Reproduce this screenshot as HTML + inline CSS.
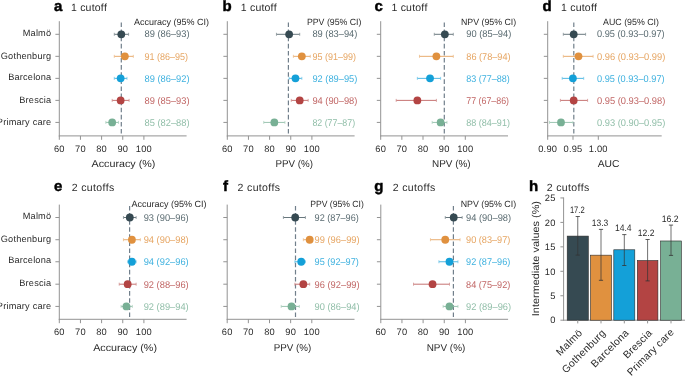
<!DOCTYPE html>
<html><head><meta charset="utf-8"><style>
html,body{margin:0;padding:0;background:#fff;}
body{width:685px;height:376px;overflow:hidden;}
svg{display:block;will-change:transform;text-rendering:geometricPrecision;font-variant-ligatures:none;font-kerning:none;font-family:"Liberation Sans",sans-serif;}
</style></head><body>
<svg width="685" height="376" viewBox="0 0 685 376" font-family="Liberation Sans, sans-serif">
<rect width="685" height="376" fill="#ffffff"/>
<text x="54.00" y="11.00" font-size="15.0" fill="#000" text-anchor="start" font-weight="bold" stroke="#000" stroke-width="0.45">a</text>
<text x="71.00" y="11.00" font-size="10.5" fill="#2b2b2b" text-anchor="start" letter-spacing="0.2">1 cutoff</text>
<line x1="59.30" y1="21.20" x2="59.30" y2="136.40" stroke="#939393" stroke-width="1.0"/>
<line x1="58.80" y1="135.90" x2="186.60" y2="135.90" stroke="#939393" stroke-width="1.0"/>
<line x1="59.30" y1="135.90" x2="59.30" y2="139.80" stroke="#939393" stroke-width="1.0"/>
<text x="59.30" y="151.60" font-size="9.3" fill="#2b2b2b" text-anchor="middle" letter-spacing="0.2">60</text>
<line x1="80.45" y1="135.90" x2="80.45" y2="139.80" stroke="#939393" stroke-width="1.0"/>
<text x="80.45" y="151.60" font-size="9.3" fill="#2b2b2b" text-anchor="middle" letter-spacing="0.2">70</text>
<line x1="101.60" y1="135.90" x2="101.60" y2="139.80" stroke="#939393" stroke-width="1.0"/>
<text x="101.60" y="151.60" font-size="9.3" fill="#2b2b2b" text-anchor="middle" letter-spacing="0.2">80</text>
<line x1="122.75" y1="135.90" x2="122.75" y2="139.80" stroke="#939393" stroke-width="1.0"/>
<text x="122.75" y="151.60" font-size="9.3" fill="#2b2b2b" text-anchor="middle" letter-spacing="0.2">90</text>
<line x1="143.90" y1="135.90" x2="143.90" y2="139.80" stroke="#939393" stroke-width="1.0"/>
<text x="143.90" y="151.60" font-size="9.3" fill="#2b2b2b" text-anchor="middle" letter-spacing="0.2">100</text>
<text x="123.50" y="166.70" font-size="10.0" fill="#2b2b2b" text-anchor="middle" textLength="63.8" lengthAdjust="spacingAndGlyphs">Accuracy (%)</text>
<line x1="55.40" y1="34.30" x2="59.30" y2="34.30" stroke="#939393" stroke-width="1.0"/>
<text x="51.30" y="35.60" font-size="9.2" fill="#2b2b2b" text-anchor="end" letter-spacing="0.2">Malmö</text>
<line x1="55.40" y1="56.33" x2="59.30" y2="56.33" stroke="#939393" stroke-width="1.0"/>
<text x="51.30" y="58.50" font-size="9.2" fill="#2b2b2b" text-anchor="end" letter-spacing="0.2">Gothenburg</text>
<line x1="55.40" y1="78.36" x2="59.30" y2="78.36" stroke="#939393" stroke-width="1.0"/>
<text x="51.30" y="80.06" font-size="9.2" fill="#2b2b2b" text-anchor="end" letter-spacing="0.2">Barcelona</text>
<line x1="55.40" y1="100.39" x2="59.30" y2="100.39" stroke="#939393" stroke-width="1.0"/>
<text x="51.30" y="102.69" font-size="9.2" fill="#2b2b2b" text-anchor="end" letter-spacing="0.2">Brescia</text>
<line x1="55.40" y1="122.42" x2="59.30" y2="122.42" stroke="#939393" stroke-width="1.0"/>
<text x="51.30" y="124.72" font-size="9.2" fill="#2b2b2b" text-anchor="end" letter-spacing="0.2">Primary care</text>
<line x1="121.30" y1="21.70" x2="121.30" y2="135.90" stroke="#717f8b" stroke-width="1.2" stroke-dasharray="4.6 2.5" stroke-dashoffset="-0.8"/>
<text x="134.10" y="24.60" font-size="9.0" fill="#2b2b2b" text-anchor="start">Accuracy (95% CI)</text>
<line x1="114.29" y1="34.30" x2="128.60" y2="34.30" stroke="#68777d" stroke-width="1.0"/>
<line x1="114.29" y1="32.80" x2="114.29" y2="35.80" stroke="#869297" stroke-width="0.8"/>
<line x1="128.60" y1="32.80" x2="128.60" y2="35.80" stroke="#869297" stroke-width="0.8"/>
<circle cx="121.30" cy="34.30" r="3.9" fill="#364a52"/>
<text x="144.50" y="37.40" font-size="9.8" fill="#5a6b71" text-anchor="start" textLength="45.0" lengthAdjust="spacingAndGlyphs">89 (86–93)</text>
<line x1="114.29" y1="56.33" x2="133.32" y2="56.33" stroke="#e8ac6f" stroke-width="1.0"/>
<line x1="114.29" y1="54.83" x2="114.29" y2="57.83" stroke="#ecbd8c" stroke-width="0.8"/>
<line x1="133.32" y1="54.83" x2="133.32" y2="57.83" stroke="#ecbd8c" stroke-width="0.8"/>
<circle cx="124.87" cy="56.33" r="3.9" fill="#e0913f"/>
<text x="144.50" y="59.53" font-size="9.8" fill="#e6a562" text-anchor="start" textLength="43.6" lengthAdjust="spacingAndGlyphs">91 (86–95)</text>
<line x1="114.29" y1="78.36" x2="126.98" y2="78.36" stroke="#4fb8e2" stroke-width="1.0"/>
<line x1="114.29" y1="76.86" x2="114.29" y2="79.86" stroke="#72c6e8" stroke-width="0.8"/>
<line x1="126.98" y1="76.86" x2="126.98" y2="79.86" stroke="#72c6e8" stroke-width="0.8"/>
<circle cx="120.64" cy="78.36" r="3.9" fill="#14a0d8"/>
<text x="144.50" y="81.71" font-size="9.8" fill="#3eb1df" text-anchor="start" textLength="45.0" lengthAdjust="spacingAndGlyphs">89 (86–92)</text>
<line x1="112.18" y1="100.39" x2="129.09" y2="100.39" stroke="#c67372" stroke-width="1.0"/>
<line x1="112.18" y1="98.89" x2="112.18" y2="101.89" stroke="#d18f8e" stroke-width="0.8"/>
<line x1="129.09" y1="98.89" x2="129.09" y2="101.89" stroke="#d18f8e" stroke-width="0.8"/>
<circle cx="120.64" cy="100.39" r="3.9" fill="#b34443"/>
<text x="144.50" y="104.04" font-size="9.8" fill="#c16665" text-anchor="start" textLength="45.0" lengthAdjust="spacingAndGlyphs">89 (85–93)</text>
<line x1="105.83" y1="122.42" x2="118.52" y2="122.42" stroke="#9ac4b0" stroke-width="1.0"/>
<line x1="105.83" y1="120.92" x2="105.83" y2="123.92" stroke="#aed0bf" stroke-width="0.8"/>
<line x1="118.52" y1="120.92" x2="118.52" y2="123.92" stroke="#aed0bf" stroke-width="0.8"/>
<circle cx="112.18" cy="122.42" r="3.9" fill="#78b095"/>
<text x="144.50" y="125.90" font-size="9.8" fill="#90bea8" text-anchor="start" textLength="45.0" lengthAdjust="spacingAndGlyphs">85 (82–88)</text>
<text x="222.40" y="11.00" font-size="15.0" fill="#000" text-anchor="start" font-weight="bold" stroke="#000" stroke-width="0.45">b</text>
<text x="240.80" y="11.00" font-size="10.5" fill="#2b2b2b" text-anchor="start" letter-spacing="0.2">1 cutoff</text>
<line x1="227.30" y1="21.20" x2="227.30" y2="136.40" stroke="#939393" stroke-width="1.0"/>
<line x1="226.80" y1="135.90" x2="354.60" y2="135.90" stroke="#939393" stroke-width="1.0"/>
<line x1="227.30" y1="135.90" x2="227.30" y2="139.80" stroke="#939393" stroke-width="1.0"/>
<text x="227.30" y="151.60" font-size="9.3" fill="#2b2b2b" text-anchor="middle" letter-spacing="0.2">60</text>
<line x1="248.45" y1="135.90" x2="248.45" y2="139.80" stroke="#939393" stroke-width="1.0"/>
<text x="248.45" y="151.60" font-size="9.3" fill="#2b2b2b" text-anchor="middle" letter-spacing="0.2">70</text>
<line x1="269.60" y1="135.90" x2="269.60" y2="139.80" stroke="#939393" stroke-width="1.0"/>
<text x="269.60" y="151.60" font-size="9.3" fill="#2b2b2b" text-anchor="middle" letter-spacing="0.2">80</text>
<line x1="290.75" y1="135.90" x2="290.75" y2="139.80" stroke="#939393" stroke-width="1.0"/>
<text x="290.75" y="151.60" font-size="9.3" fill="#2b2b2b" text-anchor="middle" letter-spacing="0.2">90</text>
<line x1="311.90" y1="135.90" x2="311.90" y2="139.80" stroke="#939393" stroke-width="1.0"/>
<text x="311.90" y="151.60" font-size="9.3" fill="#2b2b2b" text-anchor="middle" letter-spacing="0.2">100</text>
<text x="294.20" y="166.70" font-size="10.0" fill="#2b2b2b" text-anchor="middle" textLength="37.5" lengthAdjust="spacingAndGlyphs">PPV (%)</text>
<line x1="223.40" y1="34.30" x2="227.30" y2="34.30" stroke="#939393" stroke-width="1.0"/>
<line x1="223.40" y1="56.33" x2="227.30" y2="56.33" stroke="#939393" stroke-width="1.0"/>
<line x1="223.40" y1="78.36" x2="227.30" y2="78.36" stroke="#939393" stroke-width="1.0"/>
<line x1="223.40" y1="100.39" x2="227.30" y2="100.39" stroke="#939393" stroke-width="1.0"/>
<line x1="223.40" y1="122.42" x2="227.30" y2="122.42" stroke="#939393" stroke-width="1.0"/>
<line x1="288.40" y1="21.70" x2="288.40" y2="135.90" stroke="#717f8b" stroke-width="1.2" stroke-dasharray="4.6 2.5" stroke-dashoffset="-0.8"/>
<text x="306.90" y="24.60" font-size="9.0" fill="#2b2b2b" text-anchor="start" textLength="54.6" lengthAdjust="spacingAndGlyphs">PPV (95% CI)</text>
<line x1="276.44" y1="34.30" x2="299.71" y2="34.30" stroke="#68777d" stroke-width="1.0"/>
<line x1="276.44" y1="32.80" x2="276.44" y2="35.80" stroke="#869297" stroke-width="0.8"/>
<line x1="299.71" y1="32.80" x2="299.71" y2="35.80" stroke="#869297" stroke-width="0.8"/>
<circle cx="289.13" cy="34.30" r="3.9" fill="#364a52"/>
<text x="312.40" y="37.40" font-size="9.8" fill="#5a6b71" text-anchor="start" textLength="45.0" lengthAdjust="spacingAndGlyphs">89 (83–94)</text>
<line x1="293.37" y1="56.33" x2="310.29" y2="56.33" stroke="#e8ac6f" stroke-width="1.0"/>
<line x1="293.37" y1="54.83" x2="293.37" y2="57.83" stroke="#ecbd8c" stroke-width="0.8"/>
<line x1="310.29" y1="54.83" x2="310.29" y2="57.83" stroke="#ecbd8c" stroke-width="0.8"/>
<circle cx="301.83" cy="56.33" r="3.9" fill="#e0913f"/>
<text x="312.40" y="59.53" font-size="9.8" fill="#e6a562" text-anchor="start" textLength="43.6" lengthAdjust="spacingAndGlyphs">95 (91–99)</text>
<line x1="289.13" y1="78.36" x2="301.83" y2="78.36" stroke="#4fb8e2" stroke-width="1.0"/>
<line x1="289.13" y1="76.86" x2="289.13" y2="79.86" stroke="#72c6e8" stroke-width="0.8"/>
<line x1="301.83" y1="76.86" x2="301.83" y2="79.86" stroke="#72c6e8" stroke-width="0.8"/>
<circle cx="295.48" cy="78.36" r="3.9" fill="#14a0d8"/>
<text x="312.40" y="81.71" font-size="9.8" fill="#3eb1df" text-anchor="start" textLength="45.0" lengthAdjust="spacingAndGlyphs">92 (89–95)</text>
<line x1="291.25" y1="100.39" x2="308.17" y2="100.39" stroke="#c67372" stroke-width="1.0"/>
<line x1="291.25" y1="98.89" x2="291.25" y2="101.89" stroke="#d18f8e" stroke-width="0.8"/>
<line x1="308.17" y1="98.89" x2="308.17" y2="101.89" stroke="#d18f8e" stroke-width="0.8"/>
<circle cx="299.71" cy="100.39" r="3.9" fill="#b34443"/>
<text x="312.40" y="104.04" font-size="9.8" fill="#c16665" text-anchor="start" textLength="45.0" lengthAdjust="spacingAndGlyphs">94 (90–98)</text>
<line x1="263.75" y1="122.42" x2="284.91" y2="122.42" stroke="#9ac4b0" stroke-width="1.0"/>
<line x1="263.75" y1="120.92" x2="263.75" y2="123.92" stroke="#aed0bf" stroke-width="0.8"/>
<line x1="284.91" y1="120.92" x2="284.91" y2="123.92" stroke="#aed0bf" stroke-width="0.8"/>
<circle cx="274.33" cy="122.42" r="3.9" fill="#78b095"/>
<text x="312.40" y="125.90" font-size="9.8" fill="#90bea8" text-anchor="start" textLength="42.75" lengthAdjust="spacingAndGlyphs">82 (77–87)</text>
<text x="374.50" y="11.00" font-size="15.0" fill="#000" text-anchor="start" font-weight="bold" stroke="#000" stroke-width="0.45">c</text>
<text x="391.50" y="11.00" font-size="10.5" fill="#2b2b2b" text-anchor="start" letter-spacing="0.2">1 cutoff</text>
<line x1="380.70" y1="21.20" x2="380.70" y2="136.40" stroke="#939393" stroke-width="1.0"/>
<line x1="380.20" y1="135.90" x2="508.00" y2="135.90" stroke="#939393" stroke-width="1.0"/>
<line x1="380.70" y1="135.90" x2="380.70" y2="139.80" stroke="#939393" stroke-width="1.0"/>
<text x="380.70" y="151.60" font-size="9.3" fill="#2b2b2b" text-anchor="middle" letter-spacing="0.2">60</text>
<line x1="401.85" y1="135.90" x2="401.85" y2="139.80" stroke="#939393" stroke-width="1.0"/>
<text x="401.85" y="151.60" font-size="9.3" fill="#2b2b2b" text-anchor="middle" letter-spacing="0.2">70</text>
<line x1="423.00" y1="135.90" x2="423.00" y2="139.80" stroke="#939393" stroke-width="1.0"/>
<text x="423.00" y="151.60" font-size="9.3" fill="#2b2b2b" text-anchor="middle" letter-spacing="0.2">80</text>
<line x1="444.15" y1="135.90" x2="444.15" y2="139.80" stroke="#939393" stroke-width="1.0"/>
<text x="444.15" y="151.60" font-size="9.3" fill="#2b2b2b" text-anchor="middle" letter-spacing="0.2">90</text>
<line x1="465.30" y1="135.90" x2="465.30" y2="139.80" stroke="#939393" stroke-width="1.0"/>
<text x="465.30" y="151.60" font-size="9.3" fill="#2b2b2b" text-anchor="middle" letter-spacing="0.2">100</text>
<text x="451.30" y="166.70" font-size="10.0" fill="#2b2b2b" text-anchor="middle" textLength="38.6" lengthAdjust="spacingAndGlyphs">NPV (%)</text>
<line x1="376.80" y1="34.30" x2="380.70" y2="34.30" stroke="#939393" stroke-width="1.0"/>
<line x1="376.80" y1="56.33" x2="380.70" y2="56.33" stroke="#939393" stroke-width="1.0"/>
<line x1="376.80" y1="78.36" x2="380.70" y2="78.36" stroke="#939393" stroke-width="1.0"/>
<line x1="376.80" y1="100.39" x2="380.70" y2="100.39" stroke="#939393" stroke-width="1.0"/>
<line x1="376.80" y1="122.42" x2="380.70" y2="122.42" stroke="#939393" stroke-width="1.0"/>
<line x1="444.30" y1="21.70" x2="444.30" y2="135.90" stroke="#717f8b" stroke-width="1.2" stroke-dasharray="4.6 2.5" stroke-dashoffset="-0.8"/>
<text x="461.00" y="24.60" font-size="9.0" fill="#2b2b2b" text-anchor="start" textLength="55.2" lengthAdjust="spacingAndGlyphs">NPV (95% CI)</text>
<line x1="434.27" y1="34.30" x2="453.31" y2="34.30" stroke="#68777d" stroke-width="1.0"/>
<line x1="434.27" y1="32.80" x2="434.27" y2="35.80" stroke="#869297" stroke-width="0.8"/>
<line x1="453.31" y1="32.80" x2="453.31" y2="35.80" stroke="#869297" stroke-width="0.8"/>
<circle cx="444.85" cy="34.30" r="3.9" fill="#364a52"/>
<text x="466.30" y="37.40" font-size="9.8" fill="#5a6b71" text-anchor="start" textLength="45.0" lengthAdjust="spacingAndGlyphs">90 (85–94)</text>
<line x1="419.47" y1="56.33" x2="453.31" y2="56.33" stroke="#e8ac6f" stroke-width="1.0"/>
<line x1="419.47" y1="54.83" x2="419.47" y2="57.83" stroke="#ecbd8c" stroke-width="0.8"/>
<line x1="453.31" y1="54.83" x2="453.31" y2="57.83" stroke="#ecbd8c" stroke-width="0.8"/>
<circle cx="436.39" cy="56.33" r="3.9" fill="#e0913f"/>
<text x="466.30" y="59.53" font-size="9.8" fill="#e6a562" text-anchor="start" textLength="44.25" lengthAdjust="spacingAndGlyphs">86 (78–94)</text>
<line x1="417.35" y1="78.36" x2="440.62" y2="78.36" stroke="#4fb8e2" stroke-width="1.0"/>
<line x1="417.35" y1="76.86" x2="417.35" y2="79.86" stroke="#72c6e8" stroke-width="0.8"/>
<line x1="440.62" y1="76.86" x2="440.62" y2="79.86" stroke="#72c6e8" stroke-width="0.8"/>
<circle cx="430.04" cy="78.36" r="3.9" fill="#14a0d8"/>
<text x="466.30" y="81.71" font-size="9.8" fill="#3eb1df" text-anchor="start" textLength="43.5" lengthAdjust="spacingAndGlyphs">83 (77–88)</text>
<line x1="396.20" y1="100.39" x2="436.39" y2="100.39" stroke="#c67372" stroke-width="1.0"/>
<line x1="396.20" y1="98.89" x2="396.20" y2="101.89" stroke="#d18f8e" stroke-width="0.8"/>
<line x1="436.39" y1="98.89" x2="436.39" y2="101.89" stroke="#d18f8e" stroke-width="0.8"/>
<circle cx="417.35" cy="100.39" r="3.9" fill="#b34443"/>
<text x="466.30" y="104.04" font-size="9.8" fill="#c16665" text-anchor="start" textLength="42.75" lengthAdjust="spacingAndGlyphs">77 (67–86)</text>
<line x1="432.16" y1="122.42" x2="446.96" y2="122.42" stroke="#9ac4b0" stroke-width="1.0"/>
<line x1="432.16" y1="120.92" x2="432.16" y2="123.92" stroke="#aed0bf" stroke-width="0.8"/>
<line x1="446.96" y1="120.92" x2="446.96" y2="123.92" stroke="#aed0bf" stroke-width="0.8"/>
<circle cx="440.62" cy="122.42" r="3.9" fill="#78b095"/>
<text x="466.30" y="125.90" font-size="9.8" fill="#90bea8" text-anchor="start" textLength="43.6" lengthAdjust="spacingAndGlyphs">88 (84–91)</text>
<text x="542.40" y="11.00" font-size="15.0" fill="#000" text-anchor="start" font-weight="bold" stroke="#000" stroke-width="0.45">d</text>
<text x="561.10" y="11.00" font-size="10.5" fill="#2b2b2b" text-anchor="start" letter-spacing="0.2">1 cutoff</text>
<line x1="547.70" y1="21.20" x2="547.70" y2="136.40" stroke="#939393" stroke-width="1.0"/>
<line x1="547.20" y1="135.90" x2="661.70" y2="135.90" stroke="#939393" stroke-width="1.0"/>
<line x1="547.70" y1="135.90" x2="547.70" y2="139.80" stroke="#939393" stroke-width="1.0"/>
<text x="547.70" y="151.60" font-size="9.3" fill="#2b2b2b" text-anchor="middle" letter-spacing="0.2">0.90</text>
<line x1="573.00" y1="135.90" x2="573.00" y2="139.80" stroke="#939393" stroke-width="1.0"/>
<text x="573.00" y="151.60" font-size="9.3" fill="#2b2b2b" text-anchor="middle" letter-spacing="0.2">0.95</text>
<line x1="598.30" y1="135.90" x2="598.30" y2="139.80" stroke="#939393" stroke-width="1.0"/>
<text x="598.30" y="151.60" font-size="9.3" fill="#2b2b2b" text-anchor="middle" letter-spacing="0.2">1.00</text>
<text x="608.60" y="166.70" font-size="10.0" fill="#2b2b2b" text-anchor="middle" textLength="21.8" lengthAdjust="spacingAndGlyphs">AUC</text>
<line x1="543.80" y1="34.30" x2="547.70" y2="34.30" stroke="#939393" stroke-width="1.0"/>
<line x1="543.80" y1="56.33" x2="547.70" y2="56.33" stroke="#939393" stroke-width="1.0"/>
<line x1="543.80" y1="78.36" x2="547.70" y2="78.36" stroke="#939393" stroke-width="1.0"/>
<line x1="543.80" y1="100.39" x2="547.70" y2="100.39" stroke="#939393" stroke-width="1.0"/>
<line x1="543.80" y1="122.42" x2="547.70" y2="122.42" stroke="#939393" stroke-width="1.0"/>
<line x1="573.80" y1="21.70" x2="573.80" y2="135.90" stroke="#717f8b" stroke-width="1.2" stroke-dasharray="4.6 2.5" stroke-dashoffset="-0.8"/>
<text x="603.10" y="24.60" font-size="9.0" fill="#2b2b2b" text-anchor="start" textLength="55.9" lengthAdjust="spacingAndGlyphs">AUC (95% CI)</text>
<line x1="563.30" y1="34.30" x2="585.60" y2="34.30" stroke="#68777d" stroke-width="1.0"/>
<line x1="563.30" y1="32.80" x2="563.30" y2="35.80" stroke="#869297" stroke-width="0.8"/>
<line x1="585.60" y1="32.80" x2="585.60" y2="35.80" stroke="#869297" stroke-width="0.8"/>
<circle cx="573.70" cy="34.30" r="3.9" fill="#364a52"/>
<text x="597.00" y="37.40" font-size="9.8" fill="#5a6b71" text-anchor="start" textLength="67.57" lengthAdjust="spacingAndGlyphs">0.95 (0.93–0.97)</text>
<line x1="563.30" y1="56.33" x2="593.10" y2="56.33" stroke="#e8ac6f" stroke-width="1.0"/>
<line x1="563.30" y1="54.83" x2="563.30" y2="57.83" stroke="#ecbd8c" stroke-width="0.8"/>
<line x1="593.10" y1="54.83" x2="593.10" y2="57.83" stroke="#ecbd8c" stroke-width="0.8"/>
<circle cx="578.50" cy="56.33" r="3.9" fill="#e0913f"/>
<text x="597.00" y="59.53" font-size="9.8" fill="#e6a562" text-anchor="start" textLength="68.32" lengthAdjust="spacingAndGlyphs">0.96 (0.93–0.99)</text>
<line x1="562.20" y1="78.36" x2="583.70" y2="78.36" stroke="#4fb8e2" stroke-width="1.0"/>
<line x1="562.20" y1="76.86" x2="562.20" y2="79.86" stroke="#72c6e8" stroke-width="0.8"/>
<line x1="583.70" y1="76.86" x2="583.70" y2="79.86" stroke="#72c6e8" stroke-width="0.8"/>
<circle cx="572.90" cy="78.36" r="3.9" fill="#14a0d8"/>
<text x="597.00" y="81.71" font-size="9.8" fill="#3eb1df" text-anchor="start" textLength="67.57" lengthAdjust="spacingAndGlyphs">0.95 (0.93–0.97)</text>
<line x1="560.40" y1="100.39" x2="587.60" y2="100.39" stroke="#c67372" stroke-width="1.0"/>
<line x1="560.40" y1="98.89" x2="560.40" y2="101.89" stroke="#d18f8e" stroke-width="0.8"/>
<line x1="587.60" y1="98.89" x2="587.60" y2="101.89" stroke="#d18f8e" stroke-width="0.8"/>
<circle cx="573.70" cy="100.39" r="3.9" fill="#b34443"/>
<text x="597.00" y="104.04" font-size="9.8" fill="#c16665" text-anchor="start" textLength="68.32" lengthAdjust="spacingAndGlyphs">0.95 (0.93–0.98)</text>
<line x1="549.50" y1="122.42" x2="572.90" y2="122.42" stroke="#9ac4b0" stroke-width="1.0"/>
<line x1="549.50" y1="120.92" x2="549.50" y2="123.92" stroke="#aed0bf" stroke-width="0.8"/>
<line x1="572.90" y1="120.92" x2="572.90" y2="123.92" stroke="#aed0bf" stroke-width="0.8"/>
<circle cx="561.00" cy="122.42" r="3.9" fill="#78b095"/>
<text x="597.00" y="125.90" font-size="9.8" fill="#90bea8" text-anchor="start" textLength="68.32" lengthAdjust="spacingAndGlyphs">0.93 (0.90–0.95)</text>
<text x="54.00" y="190.70" font-size="15.0" fill="#000" text-anchor="start" font-weight="bold" stroke="#000" stroke-width="0.45">e</text>
<text x="71.80" y="190.70" font-size="10.5" fill="#2b2b2b" text-anchor="start" letter-spacing="0.35">2 cutoffs</text>
<line x1="59.30" y1="204.60" x2="59.30" y2="319.80" stroke="#939393" stroke-width="1.0"/>
<line x1="58.80" y1="319.30" x2="186.60" y2="319.30" stroke="#939393" stroke-width="1.0"/>
<line x1="59.30" y1="319.30" x2="59.30" y2="323.20" stroke="#939393" stroke-width="1.0"/>
<text x="59.30" y="335.00" font-size="9.3" fill="#2b2b2b" text-anchor="middle" letter-spacing="0.2">60</text>
<line x1="80.45" y1="319.30" x2="80.45" y2="323.20" stroke="#939393" stroke-width="1.0"/>
<text x="80.45" y="335.00" font-size="9.3" fill="#2b2b2b" text-anchor="middle" letter-spacing="0.2">70</text>
<line x1="101.60" y1="319.30" x2="101.60" y2="323.20" stroke="#939393" stroke-width="1.0"/>
<text x="101.60" y="335.00" font-size="9.3" fill="#2b2b2b" text-anchor="middle" letter-spacing="0.2">80</text>
<line x1="122.75" y1="319.30" x2="122.75" y2="323.20" stroke="#939393" stroke-width="1.0"/>
<text x="122.75" y="335.00" font-size="9.3" fill="#2b2b2b" text-anchor="middle" letter-spacing="0.2">90</text>
<line x1="143.90" y1="319.30" x2="143.90" y2="323.20" stroke="#939393" stroke-width="1.0"/>
<text x="143.90" y="335.00" font-size="9.3" fill="#2b2b2b" text-anchor="middle" letter-spacing="0.2">100</text>
<text x="125.10" y="351.00" font-size="10.0" fill="#2b2b2b" text-anchor="middle" textLength="63.8" lengthAdjust="spacingAndGlyphs">Accuracy (%)</text>
<line x1="55.40" y1="217.50" x2="59.30" y2="217.50" stroke="#939393" stroke-width="1.0"/>
<text x="51.30" y="218.80" font-size="9.2" fill="#2b2b2b" text-anchor="end" letter-spacing="0.2">Malmö</text>
<line x1="55.40" y1="239.73" x2="59.30" y2="239.73" stroke="#939393" stroke-width="1.0"/>
<text x="51.30" y="241.90" font-size="9.2" fill="#2b2b2b" text-anchor="end" letter-spacing="0.2">Gothenburg</text>
<line x1="55.40" y1="261.76" x2="59.30" y2="261.76" stroke="#939393" stroke-width="1.0"/>
<text x="51.30" y="263.46" font-size="9.2" fill="#2b2b2b" text-anchor="end" letter-spacing="0.2">Barcelona</text>
<line x1="55.40" y1="284.19" x2="59.30" y2="284.19" stroke="#939393" stroke-width="1.0"/>
<text x="51.30" y="286.49" font-size="9.2" fill="#2b2b2b" text-anchor="end" letter-spacing="0.2">Brescia</text>
<line x1="55.40" y1="306.42" x2="59.30" y2="306.42" stroke="#939393" stroke-width="1.0"/>
<text x="51.30" y="308.72" font-size="9.2" fill="#2b2b2b" text-anchor="end" letter-spacing="0.2">Primary care</text>
<line x1="129.60" y1="205.10" x2="129.60" y2="319.30" stroke="#717f8b" stroke-width="1.2" stroke-dasharray="4.6 2.5" stroke-dashoffset="-0.8"/>
<text x="131.40" y="207.00" font-size="9.0" fill="#2b2b2b" text-anchor="start">Accuracy (95% CI)</text>
<line x1="123.45" y1="217.50" x2="136.14" y2="217.50" stroke="#68777d" stroke-width="1.0"/>
<line x1="123.45" y1="216.00" x2="123.45" y2="219.00" stroke="#869297" stroke-width="0.8"/>
<line x1="136.14" y1="216.00" x2="136.14" y2="219.00" stroke="#869297" stroke-width="0.8"/>
<circle cx="129.79" cy="217.50" r="3.9" fill="#364a52"/>
<text x="143.70" y="220.60" font-size="9.8" fill="#5a6b71" text-anchor="start" textLength="45.0" lengthAdjust="spacingAndGlyphs">93 (90–96)</text>
<line x1="123.45" y1="239.73" x2="140.37" y2="239.73" stroke="#e8ac6f" stroke-width="1.0"/>
<line x1="123.45" y1="238.23" x2="123.45" y2="241.23" stroke="#ecbd8c" stroke-width="0.8"/>
<line x1="140.37" y1="238.23" x2="140.37" y2="241.23" stroke="#ecbd8c" stroke-width="0.8"/>
<circle cx="131.91" cy="239.73" r="3.9" fill="#e0913f"/>
<text x="143.70" y="242.93" font-size="9.8" fill="#e6a562" text-anchor="start" textLength="45.0" lengthAdjust="spacingAndGlyphs">94 (90–98)</text>
<line x1="127.68" y1="261.76" x2="136.14" y2="261.76" stroke="#4fb8e2" stroke-width="1.0"/>
<line x1="127.68" y1="260.26" x2="127.68" y2="263.26" stroke="#72c6e8" stroke-width="0.8"/>
<line x1="136.14" y1="260.26" x2="136.14" y2="263.26" stroke="#72c6e8" stroke-width="0.8"/>
<circle cx="131.91" cy="261.76" r="3.9" fill="#14a0d8"/>
<text x="143.70" y="265.11" font-size="9.8" fill="#3eb1df" text-anchor="start" textLength="45.0" lengthAdjust="spacingAndGlyphs">94 (92–96)</text>
<line x1="119.22" y1="284.19" x2="136.14" y2="284.19" stroke="#c67372" stroke-width="1.0"/>
<line x1="119.22" y1="282.69" x2="119.22" y2="285.69" stroke="#d18f8e" stroke-width="0.8"/>
<line x1="136.14" y1="282.69" x2="136.14" y2="285.69" stroke="#d18f8e" stroke-width="0.8"/>
<circle cx="127.68" cy="284.19" r="3.9" fill="#b34443"/>
<text x="143.70" y="287.84" font-size="9.8" fill="#c16665" text-anchor="start" textLength="45.0" lengthAdjust="spacingAndGlyphs">92 (88–96)</text>
<line x1="121.12" y1="306.42" x2="132.33" y2="306.42" stroke="#9ac4b0" stroke-width="1.0"/>
<line x1="121.12" y1="304.92" x2="121.12" y2="307.92" stroke="#aed0bf" stroke-width="0.8"/>
<line x1="132.33" y1="304.92" x2="132.33" y2="307.92" stroke="#aed0bf" stroke-width="0.8"/>
<circle cx="126.41" cy="306.42" r="3.9" fill="#78b095"/>
<text x="143.70" y="309.90" font-size="9.8" fill="#90bea8" text-anchor="start" textLength="45.0" lengthAdjust="spacingAndGlyphs">92 (89–94)</text>
<text x="223.10" y="190.70" font-size="15.0" fill="#000" text-anchor="start" font-weight="bold" stroke="#000" stroke-width="0.45">f</text>
<text x="237.60" y="190.70" font-size="10.5" fill="#2b2b2b" text-anchor="start" letter-spacing="0.35">2 cutoffs</text>
<line x1="227.20" y1="204.60" x2="227.20" y2="319.80" stroke="#939393" stroke-width="1.0"/>
<line x1="226.70" y1="319.30" x2="354.50" y2="319.30" stroke="#939393" stroke-width="1.0"/>
<line x1="227.20" y1="319.30" x2="227.20" y2="323.20" stroke="#939393" stroke-width="1.0"/>
<text x="227.20" y="335.00" font-size="9.3" fill="#2b2b2b" text-anchor="middle" letter-spacing="0.2">60</text>
<line x1="248.35" y1="319.30" x2="248.35" y2="323.20" stroke="#939393" stroke-width="1.0"/>
<text x="248.35" y="335.00" font-size="9.3" fill="#2b2b2b" text-anchor="middle" letter-spacing="0.2">70</text>
<line x1="269.50" y1="319.30" x2="269.50" y2="323.20" stroke="#939393" stroke-width="1.0"/>
<text x="269.50" y="335.00" font-size="9.3" fill="#2b2b2b" text-anchor="middle" letter-spacing="0.2">80</text>
<line x1="290.65" y1="319.30" x2="290.65" y2="323.20" stroke="#939393" stroke-width="1.0"/>
<text x="290.65" y="335.00" font-size="9.3" fill="#2b2b2b" text-anchor="middle" letter-spacing="0.2">90</text>
<line x1="311.80" y1="319.30" x2="311.80" y2="323.20" stroke="#939393" stroke-width="1.0"/>
<text x="311.80" y="335.00" font-size="9.3" fill="#2b2b2b" text-anchor="middle" letter-spacing="0.2">100</text>
<text x="292.50" y="351.00" font-size="10.0" fill="#2b2b2b" text-anchor="middle" textLength="37.5" lengthAdjust="spacingAndGlyphs">PPV (%)</text>
<line x1="223.30" y1="217.50" x2="227.20" y2="217.50" stroke="#939393" stroke-width="1.0"/>
<line x1="223.30" y1="239.73" x2="227.20" y2="239.73" stroke="#939393" stroke-width="1.0"/>
<line x1="223.30" y1="261.76" x2="227.20" y2="261.76" stroke="#939393" stroke-width="1.0"/>
<line x1="223.30" y1="284.19" x2="227.20" y2="284.19" stroke="#939393" stroke-width="1.0"/>
<line x1="223.30" y1="306.42" x2="227.20" y2="306.42" stroke="#939393" stroke-width="1.0"/>
<line x1="295.50" y1="205.10" x2="295.50" y2="319.30" stroke="#717f8b" stroke-width="1.2" stroke-dasharray="4.6 2.5" stroke-dashoffset="-0.8"/>
<text x="310.20" y="207.00" font-size="9.0" fill="#2b2b2b" text-anchor="start" textLength="53.6" lengthAdjust="spacingAndGlyphs">PPV (95% CI)</text>
<line x1="283.40" y1="217.50" x2="305.40" y2="217.50" stroke="#68777d" stroke-width="1.0"/>
<line x1="283.40" y1="216.00" x2="283.40" y2="219.00" stroke="#869297" stroke-width="0.8"/>
<line x1="305.40" y1="216.00" x2="305.40" y2="219.00" stroke="#869297" stroke-width="0.8"/>
<circle cx="295.20" cy="217.50" r="3.9" fill="#364a52"/>
<text x="314.60" y="220.60" font-size="9.8" fill="#5a6b71" text-anchor="start" textLength="44.25" lengthAdjust="spacingAndGlyphs">92 (87–96)</text>
<line x1="303.34" y1="239.73" x2="309.69" y2="239.73" stroke="#e8ac6f" stroke-width="1.0"/>
<line x1="303.34" y1="238.23" x2="303.34" y2="241.23" stroke="#ecbd8c" stroke-width="0.8"/>
<line x1="309.69" y1="238.23" x2="309.69" y2="241.23" stroke="#ecbd8c" stroke-width="0.8"/>
<circle cx="309.69" cy="239.73" r="3.9" fill="#e0913f"/>
<text x="314.60" y="242.93" font-size="9.8" fill="#e6a562" text-anchor="start" textLength="45.0" lengthAdjust="spacingAndGlyphs">99 (96–99)</text>
<line x1="294.88" y1="261.76" x2="305.45" y2="261.76" stroke="#4fb8e2" stroke-width="1.0"/>
<line x1="294.88" y1="260.26" x2="294.88" y2="263.26" stroke="#72c6e8" stroke-width="0.8"/>
<line x1="305.45" y1="260.26" x2="305.45" y2="263.26" stroke="#72c6e8" stroke-width="0.8"/>
<circle cx="301.23" cy="261.76" r="3.9" fill="#14a0d8"/>
<text x="314.60" y="265.11" font-size="9.8" fill="#3eb1df" text-anchor="start" textLength="44.25" lengthAdjust="spacingAndGlyphs">95 (92–97)</text>
<line x1="294.88" y1="284.19" x2="309.69" y2="284.19" stroke="#c67372" stroke-width="1.0"/>
<line x1="294.88" y1="282.69" x2="294.88" y2="285.69" stroke="#d18f8e" stroke-width="0.8"/>
<line x1="309.69" y1="282.69" x2="309.69" y2="285.69" stroke="#d18f8e" stroke-width="0.8"/>
<circle cx="303.34" cy="284.19" r="3.9" fill="#b34443"/>
<text x="314.60" y="287.84" font-size="9.8" fill="#c16665" text-anchor="start" textLength="45.0" lengthAdjust="spacingAndGlyphs">96 (92–99)</text>
<line x1="281.20" y1="306.42" x2="299.30" y2="306.42" stroke="#9ac4b0" stroke-width="1.0"/>
<line x1="281.20" y1="304.92" x2="281.20" y2="307.92" stroke="#aed0bf" stroke-width="0.8"/>
<line x1="299.30" y1="304.92" x2="299.30" y2="307.92" stroke="#aed0bf" stroke-width="0.8"/>
<circle cx="291.50" cy="306.42" r="3.9" fill="#78b095"/>
<text x="314.60" y="309.90" font-size="9.8" fill="#90bea8" text-anchor="start" textLength="45.0" lengthAdjust="spacingAndGlyphs">90 (86–94)</text>
<text x="374.30" y="190.70" font-size="15.0" fill="#000" text-anchor="start" font-weight="bold" stroke="#000" stroke-width="0.45">g</text>
<text x="392.80" y="190.70" font-size="10.5" fill="#2b2b2b" text-anchor="start" letter-spacing="0.35">2 cutoffs</text>
<line x1="380.80" y1="204.60" x2="380.80" y2="319.80" stroke="#939393" stroke-width="1.0"/>
<line x1="380.30" y1="319.30" x2="508.10" y2="319.30" stroke="#939393" stroke-width="1.0"/>
<line x1="380.80" y1="319.30" x2="380.80" y2="323.20" stroke="#939393" stroke-width="1.0"/>
<text x="380.80" y="335.00" font-size="9.3" fill="#2b2b2b" text-anchor="middle" letter-spacing="0.2">60</text>
<line x1="401.95" y1="319.30" x2="401.95" y2="323.20" stroke="#939393" stroke-width="1.0"/>
<text x="401.95" y="335.00" font-size="9.3" fill="#2b2b2b" text-anchor="middle" letter-spacing="0.2">70</text>
<line x1="423.10" y1="319.30" x2="423.10" y2="323.20" stroke="#939393" stroke-width="1.0"/>
<text x="423.10" y="335.00" font-size="9.3" fill="#2b2b2b" text-anchor="middle" letter-spacing="0.2">80</text>
<line x1="444.25" y1="319.30" x2="444.25" y2="323.20" stroke="#939393" stroke-width="1.0"/>
<text x="444.25" y="335.00" font-size="9.3" fill="#2b2b2b" text-anchor="middle" letter-spacing="0.2">90</text>
<line x1="465.40" y1="319.30" x2="465.40" y2="323.20" stroke="#939393" stroke-width="1.0"/>
<text x="465.40" y="335.00" font-size="9.3" fill="#2b2b2b" text-anchor="middle" letter-spacing="0.2">100</text>
<text x="446.00" y="351.00" font-size="10.0" fill="#2b2b2b" text-anchor="middle" textLength="38.6" lengthAdjust="spacingAndGlyphs">NPV (%)</text>
<line x1="376.90" y1="217.50" x2="380.80" y2="217.50" stroke="#939393" stroke-width="1.0"/>
<line x1="376.90" y1="239.73" x2="380.80" y2="239.73" stroke="#939393" stroke-width="1.0"/>
<line x1="376.90" y1="261.76" x2="380.80" y2="261.76" stroke="#939393" stroke-width="1.0"/>
<line x1="376.90" y1="284.19" x2="380.80" y2="284.19" stroke="#939393" stroke-width="1.0"/>
<line x1="376.90" y1="306.42" x2="380.80" y2="306.42" stroke="#939393" stroke-width="1.0"/>
<line x1="453.40" y1="205.10" x2="453.40" y2="319.30" stroke="#717f8b" stroke-width="1.2" stroke-dasharray="4.6 2.5" stroke-dashoffset="-0.8"/>
<text x="460.70" y="207.00" font-size="9.0" fill="#2b2b2b" text-anchor="start" textLength="55.4" lengthAdjust="spacingAndGlyphs">NPV (95% CI)</text>
<line x1="445.25" y1="217.50" x2="462.17" y2="217.50" stroke="#68777d" stroke-width="1.0"/>
<line x1="445.25" y1="216.00" x2="445.25" y2="219.00" stroke="#869297" stroke-width="0.8"/>
<line x1="462.17" y1="216.00" x2="462.17" y2="219.00" stroke="#869297" stroke-width="0.8"/>
<circle cx="453.71" cy="217.50" r="3.9" fill="#364a52"/>
<text x="466.10" y="220.60" font-size="9.8" fill="#5a6b71" text-anchor="start" textLength="45.0" lengthAdjust="spacingAndGlyphs">94 (90–98)</text>
<line x1="430.44" y1="239.73" x2="460.06" y2="239.73" stroke="#e8ac6f" stroke-width="1.0"/>
<line x1="430.44" y1="238.23" x2="430.44" y2="241.23" stroke="#ecbd8c" stroke-width="0.8"/>
<line x1="460.06" y1="238.23" x2="460.06" y2="241.23" stroke="#ecbd8c" stroke-width="0.8"/>
<circle cx="445.25" cy="239.73" r="3.9" fill="#e0913f"/>
<text x="466.10" y="242.93" font-size="9.8" fill="#e6a562" text-anchor="start" textLength="44.25" lengthAdjust="spacingAndGlyphs">90 (83–97)</text>
<line x1="438.91" y1="261.76" x2="457.94" y2="261.76" stroke="#4fb8e2" stroke-width="1.0"/>
<line x1="438.91" y1="260.26" x2="438.91" y2="263.26" stroke="#72c6e8" stroke-width="0.8"/>
<line x1="457.94" y1="260.26" x2="457.94" y2="263.26" stroke="#72c6e8" stroke-width="0.8"/>
<circle cx="449.48" cy="261.76" r="3.9" fill="#14a0d8"/>
<text x="466.10" y="265.11" font-size="9.8" fill="#3eb1df" text-anchor="start" textLength="44.25" lengthAdjust="spacingAndGlyphs">92 (87–96)</text>
<line x1="413.53" y1="284.19" x2="449.48" y2="284.19" stroke="#c67372" stroke-width="1.0"/>
<line x1="413.53" y1="282.69" x2="413.53" y2="285.69" stroke="#d18f8e" stroke-width="0.8"/>
<line x1="449.48" y1="282.69" x2="449.48" y2="285.69" stroke="#d18f8e" stroke-width="0.8"/>
<circle cx="432.56" cy="284.19" r="3.9" fill="#b34443"/>
<text x="466.10" y="287.84" font-size="9.8" fill="#c16665" text-anchor="start" textLength="44.25" lengthAdjust="spacingAndGlyphs">84 (75–92)</text>
<line x1="443.13" y1="306.42" x2="457.94" y2="306.42" stroke="#9ac4b0" stroke-width="1.0"/>
<line x1="443.13" y1="304.92" x2="443.13" y2="307.92" stroke="#aed0bf" stroke-width="0.8"/>
<line x1="457.94" y1="304.92" x2="457.94" y2="307.92" stroke="#aed0bf" stroke-width="0.8"/>
<circle cx="449.48" cy="306.42" r="3.9" fill="#78b095"/>
<text x="466.10" y="309.90" font-size="9.8" fill="#90bea8" text-anchor="start" textLength="45.0" lengthAdjust="spacingAndGlyphs">92 (89–96)</text>
<text x="528.90" y="190.50" font-size="15.0" fill="#000" text-anchor="start" font-weight="bold" stroke="#000" stroke-width="0.45">h</text>
<text x="546.80" y="190.50" font-size="10.5" fill="#2b2b2b" text-anchor="start" letter-spacing="0.35">2 cutoffs</text>
<line x1="563.60" y1="197.45" x2="563.60" y2="320.70" stroke="#939393" stroke-width="1.0"/>
<line x1="563.10" y1="320.20" x2="685.00" y2="320.20" stroke="#939393" stroke-width="1.0"/>
<line x1="560.40" y1="320.20" x2="563.60" y2="320.20" stroke="#939393" stroke-width="1.0"/>
<text x="555.60" y="323.40" font-size="9.3" fill="#2b2b2b" text-anchor="end" letter-spacing="0.2">0</text>
<line x1="560.40" y1="295.75" x2="563.60" y2="295.75" stroke="#939393" stroke-width="1.0"/>
<text x="555.60" y="298.95" font-size="9.3" fill="#2b2b2b" text-anchor="end" letter-spacing="0.2">5</text>
<line x1="560.40" y1="271.30" x2="563.60" y2="271.30" stroke="#939393" stroke-width="1.0"/>
<text x="555.60" y="274.50" font-size="9.3" fill="#2b2b2b" text-anchor="end" letter-spacing="0.2">10</text>
<line x1="560.40" y1="246.85" x2="563.60" y2="246.85" stroke="#939393" stroke-width="1.0"/>
<text x="555.60" y="250.05" font-size="9.3" fill="#2b2b2b" text-anchor="end" letter-spacing="0.2">15</text>
<line x1="560.40" y1="222.40" x2="563.60" y2="222.40" stroke="#939393" stroke-width="1.0"/>
<text x="555.60" y="225.60" font-size="9.3" fill="#2b2b2b" text-anchor="end" letter-spacing="0.2">20</text>
<line x1="560.40" y1="197.95" x2="563.60" y2="197.95" stroke="#939393" stroke-width="1.0"/>
<text x="555.60" y="201.15" font-size="9.3" fill="#2b2b2b" text-anchor="end" letter-spacing="0.2">25</text>
<text transform="translate(538.6 258.6) rotate(-90)" font-size="10.0" fill="#2b2b2b" text-anchor="middle" textLength="115.2" lengthAdjust="spacingAndGlyphs">Intermediate values (%)</text>
<rect x="567.20" y="236.09" width="21.10" height="84.11" fill="#364a52" stroke="#2a2a2a" stroke-width="0.6"/>
<line x1="577.75" y1="216.50" x2="577.75" y2="255.10" stroke="#333333" stroke-width="0.7"/>
<line x1="575.65" y1="216.50" x2="579.85" y2="216.50" stroke="#333333" stroke-width="0.8"/>
<line x1="575.65" y1="255.10" x2="579.85" y2="255.10" stroke="#333333" stroke-width="0.8"/>
<text x="577.30" y="213.20" font-size="9.3" fill="#2b2b2b" text-anchor="middle" textLength="14.8" lengthAdjust="spacingAndGlyphs">17.2</text>
<line x1="577.75" y1="320.20" x2="577.75" y2="323.40" stroke="#939393" stroke-width="1.0"/>
<text transform="translate(582.95 333.60) rotate(-45)" font-size="10.3" fill="#2b2b2b" text-anchor="end" letter-spacing="0.25">Malmö</text>
<rect x="590.50" y="255.16" width="21.00" height="65.04" fill="#e0913f" stroke="#2a2a2a" stroke-width="0.6"/>
<line x1="601.00" y1="229.40" x2="601.00" y2="280.30" stroke="#333333" stroke-width="0.7"/>
<line x1="598.90" y1="229.40" x2="603.10" y2="229.40" stroke="#333333" stroke-width="0.8"/>
<line x1="598.90" y1="280.30" x2="603.10" y2="280.30" stroke="#333333" stroke-width="0.8"/>
<text x="600.00" y="226.10" font-size="9.3" fill="#2b2b2b" text-anchor="middle" textLength="16.5" lengthAdjust="spacingAndGlyphs">13.3</text>
<line x1="601.00" y1="320.20" x2="601.00" y2="323.40" stroke="#939393" stroke-width="1.0"/>
<text transform="translate(606.20 333.60) rotate(-45)" font-size="10.3" fill="#2b2b2b" text-anchor="end" letter-spacing="0.25">Gothenburg</text>
<rect x="613.80" y="249.78" width="21.00" height="70.42" fill="#14a0d8" stroke="#2a2a2a" stroke-width="0.6"/>
<line x1="624.30" y1="234.60" x2="624.30" y2="265.50" stroke="#333333" stroke-width="0.7"/>
<line x1="622.20" y1="234.60" x2="626.40" y2="234.60" stroke="#333333" stroke-width="0.8"/>
<line x1="622.20" y1="265.50" x2="626.40" y2="265.50" stroke="#333333" stroke-width="0.8"/>
<text x="623.25" y="231.30" font-size="9.3" fill="#2b2b2b" text-anchor="middle" textLength="16.7" lengthAdjust="spacingAndGlyphs">14.4</text>
<line x1="624.30" y1="320.20" x2="624.30" y2="323.40" stroke="#939393" stroke-width="1.0"/>
<text transform="translate(629.50 333.60) rotate(-45)" font-size="10.3" fill="#2b2b2b" text-anchor="end" letter-spacing="0.25">Barcelona</text>
<rect x="637.30" y="260.54" width="20.60" height="59.66" fill="#b34443" stroke="#2a2a2a" stroke-width="0.6"/>
<line x1="647.60" y1="239.50" x2="647.60" y2="280.90" stroke="#333333" stroke-width="0.7"/>
<line x1="645.50" y1="239.50" x2="649.70" y2="239.50" stroke="#333333" stroke-width="0.8"/>
<line x1="645.50" y1="280.90" x2="649.70" y2="280.90" stroke="#333333" stroke-width="0.8"/>
<text x="646.10" y="236.20" font-size="9.3" fill="#2b2b2b" text-anchor="middle" textLength="16.6" lengthAdjust="spacingAndGlyphs">12.2</text>
<line x1="647.60" y1="320.20" x2="647.60" y2="323.40" stroke="#939393" stroke-width="1.0"/>
<text transform="translate(652.80 333.60) rotate(-45)" font-size="10.3" fill="#2b2b2b" text-anchor="end" letter-spacing="0.25">Brescia</text>
<rect x="660.60" y="240.98" width="20.80" height="79.22" fill="#78b095" stroke="#2a2a2a" stroke-width="0.6"/>
<line x1="671.00" y1="225.10" x2="671.00" y2="255.40" stroke="#333333" stroke-width="0.7"/>
<line x1="668.90" y1="225.10" x2="673.10" y2="225.10" stroke="#333333" stroke-width="0.8"/>
<line x1="668.90" y1="255.40" x2="673.10" y2="255.40" stroke="#333333" stroke-width="0.8"/>
<text x="670.25" y="221.80" font-size="9.3" fill="#2b2b2b" text-anchor="middle" textLength="16.9" lengthAdjust="spacingAndGlyphs">16.2</text>
<line x1="671.00" y1="320.20" x2="671.00" y2="323.40" stroke="#939393" stroke-width="1.0"/>
<text transform="translate(674.70 332.80) rotate(-45)" font-size="10.3" fill="#2b2b2b" text-anchor="end" letter-spacing="0.25">Primary care</text>
</svg>
</body></html>
